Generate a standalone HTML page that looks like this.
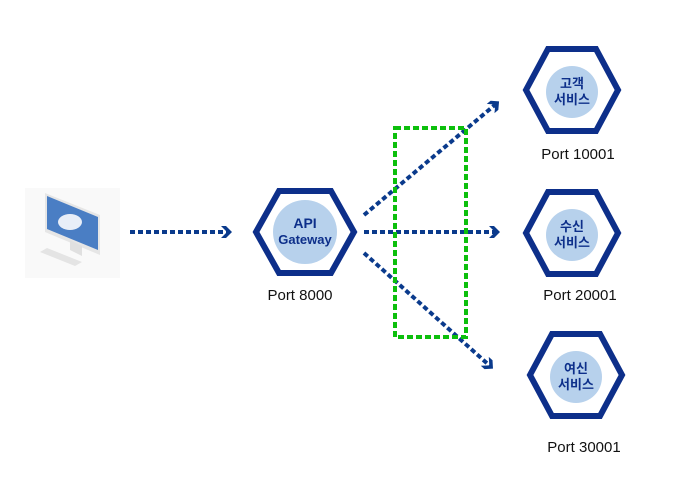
<!DOCTYPE html>
<html><head><meta charset="utf-8"><style>
body{margin:0;background:#fff;width:700px;height:496px;overflow:hidden}
svg{display:block}
text{font-family:"Liberation Sans","Noto Sans CJK KR",sans-serif}
</style></head><body>
<svg width="700" height="496" viewBox="0 0 700 496">
<defs>
<marker id="ah" markerWidth="14" markerHeight="14" refX="8" refY="7" orient="auto" markerUnits="userSpaceOnUse">
<path d="M1,1 L6,1 L12,7 L6,13 L1,13 L7,7 Z" fill="#0a3a8c"/>
</marker>
</defs>
<!-- monitor -->
<rect x="25" y="188" width="95" height="90" fill="#f9f9f9"/>
<polygon points="45,193 100,215 100,255 45,232" fill="#e6e6e6"/>
<polygon points="47,196 98,217 98,250 47,229" fill="#4a7ec4"/>
<ellipse cx="70" cy="222" rx="12" ry="8" fill="#e8eef8"/>
<polygon points="70,240 82,246 82,256 70,250" fill="#e0e0e0"/>
<polygon points="40,252 75,266 82,262 47,248" fill="#e4e4e4"/>
<!-- arrows -->
<g stroke="#0a3a8c" stroke-width="4" stroke-dasharray="5 3" fill="none">
<line x1="130" y1="232" x2="228" y2="232" marker-end="url(#ah)"/>
<line x1="364" y1="232" x2="496" y2="232" marker-end="url(#ah)"/>
<line x1="364" y1="215" x2="496" y2="104" marker-end="url(#ah)"/>
<line x1="364" y1="253" x2="490" y2="366" marker-end="url(#ah)"/>
</g>
<rect x="395" y="128" width="71" height="209" fill="none" stroke="#0cbf0c" stroke-width="4" stroke-dasharray="6 3"/>
<!-- hexes -->
<g stroke="#0d2f8a" stroke-width="6" fill="#fff">
<polygon points="256,232 279,191 331,191 354,232 331,273 279,273"/>
<polygon points="526,90 548,49 596,49 618,90 596,131 548,131"/>
<polygon points="526,233 548,192 596,192 618,233 596,274 548,274"/>
<polygon points="530,375 552,334 600,334 622,375 600,416 552,416"/>
</g>
<g fill="#b7d1ec">
<circle cx="305" cy="232" r="32"/>
<circle cx="572" cy="92" r="26"/>
<circle cx="572" cy="235" r="26"/>
<circle cx="576" cy="377" r="26"/>
</g>
<g fill="#0d2f8a" font-weight="bold" text-anchor="middle" font-size="14">
<text x="305" y="228">API</text>
<text x="305" y="244" font-size="13">Gateway</text>
<text x="572" y="88" font-size="13">고객</text>
<text x="572" y="104" font-size="13">서비스</text>
<text x="572" y="231" font-size="13">수신</text>
<text x="572" y="247" font-size="13">서비스</text>
<text x="576" y="373" font-size="13">여신</text>
<text x="576" y="389" font-size="13">서비스</text>
</g>
<g fill="#111" font-size="15" text-anchor="middle">
<text x="300" y="300">Port 8000</text>
<text x="578" y="159">Port 10001</text>
<text x="580" y="300">Port 20001</text>
<text x="584" y="452">Port 30001</text>
</g>
</svg>
</body></html>
